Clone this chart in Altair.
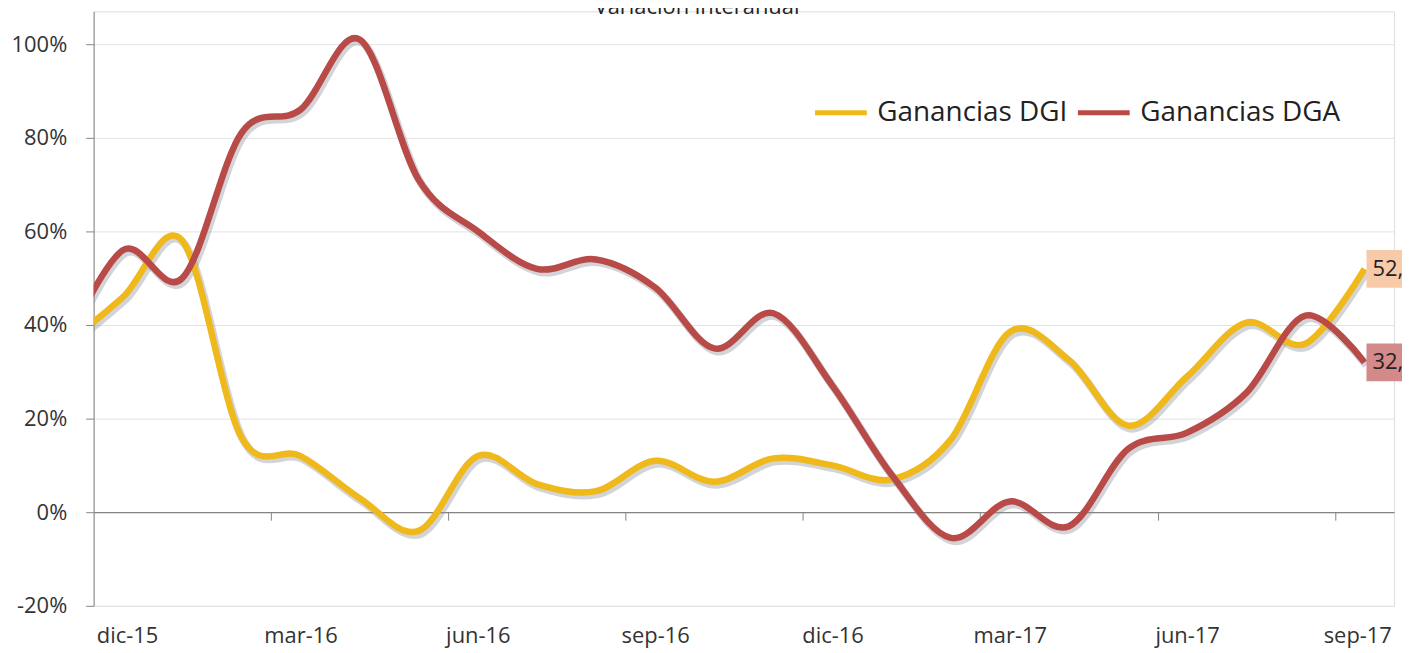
import altair as alt
import pandas as pd

# ---- data (percent, year-on-year) ----
months = ["nov-15", "dic-15", "ene-16", "feb-16", "mar-16", "abr-16", "may-16",
          "jun-16", "jul-16", "ago-16", "sep-16", "oct-16", "nov-16", "dic-16",
          "ene-17", "feb-17", "mar-17", "abr-17", "may-17", "jun-17", "jul-17",
          "ago-17", "sep-17"]
dgi = [35.5, 46, 58, 16, 12, 3, -4, 12, 6, 4.5, 11, 6.5, 11.5, 10, 7, 15.5,
       38.5, 32.5, 18.5, 29, 40.5, 36, 52]
dga = [35, 56, 50, 81, 86, 101, 71, 60, 52, 54, 48, 35, 42.5, 27, 8, -5.5,
       2.3, -3, 13.5, 17, 25.5, 42, 32]
series_names = ["Ganancias DGI", "Ganancias DGA"]
title_text = ["Variación interanual"]

# month index: dic-15 = 0
idx = list(range(-1, len(months) - 1))
rows = []
for name, vals in zip(series_names, [dgi, dga]):
    for k, v in zip(idx, vals):
        rows.append({"k": k, "v": v, "serie": name})
df = pd.DataFrame(rows)
df_end = pd.DataFrame({"k": [idx[-1], idx[-1]], "v": [dgi[-1], dga[-1]],
                       "serie": series_names})
df_title = pd.DataFrame({"t": title_text})

# ---- styling ----
FONT = "Open Sans"
YELLOW = "#EFB81B"
RED = "#B84A48"
W, H = 1306, 597
YMIN, YMAX = -20, 107
zero_off = -H * (0 - YMIN) / (YMAX - YMIN)

x_scale = alt.Scale(domain=[-0.5, len(months) - 1.5], nice=False, zero=False)
y_scale = alt.Scale(domain=[YMIN, YMAX], nice=False, zero=False)

label_values = list(range(0, len(months) - 1, 3))
label_expr = "[" + ",".join("'%s'" % m for m in months[1:]) + "][datum.value]"
x_axis_labels = alt.Axis(values=label_values, labelExpr=label_expr, ticks=False,
                         tickSize=0, domain=False, grid=False, labelFont=FONT,
                         labelFontSize=22, labelColor="#333", labelPadding=20,
                         labelFlush=35, labelFlushOffset=27,
                         orient="bottom", title=None, zindex=0)
tick_values = [v + 2.5 for v in range(0, len(months) - 3, 3)]
x_axis_zero = alt.Axis(values=tick_values, labels=False, ticks=True, tickSize=8,
                       tickColor="#858585", domain=True, domainColor="#858585",
                       domainWidth=1.2, grid=False, offset=zero_off,
                       orient="bottom", title=None, zindex=0)
y_axis = alt.Axis(values=[-20, 0, 20, 40, 60, 80, 100],
                  labelExpr="datum.value + '%'", grid=True, gridColor="#e3e3e3",
                  gridWidth=1, domainColor="#858585", tickColor="#858585",
                  tickSize=8, labelFont=FONT, labelFontSize=22, labelColor="#333",
                  labelPadding=19, title=None, zindex=0)

X1 = alt.X("k:Q", scale=x_scale, axis=x_axis_labels)
Y = alt.Y("v:Q", scale=y_scale, axis=y_axis)

color = alt.Color("serie:N",
                  scale=alt.Scale(domain=series_names, range=[YELLOW, RED]),
                  legend=alt.Legend(orient="none", legendX=722, legendY=73,
                                    direction="horizontal", title=None,
                                    symbolType="stroke", symbolSize=2704,
                                    symbolStrokeWidth=5, labelFont=FONT,
                                    labelFontSize=28, labelColor="#222",
                                    labelLimit=500, labelOffset=8,
                                    columnPadding=0, padding=0))

shadow = alt.Chart(df).mark_line(
    interpolate="cardinal", clip=True, strokeWidth=8, color="#8a8f99",
    opacity=0.38, xOffset=2, yOffset=3
).encode(
    x=alt.X("k:Q", scale=x_scale, axis=x_axis_zero),
    y=Y,
    detail="serie:N",
)

def line_for(name):
    return alt.Chart(df).transform_filter(
        alt.datum.serie == name
    ).mark_line(interpolate="cardinal", clip=True, strokeWidth=6.5).encode(
        x=X1, y=Y, color=color
    )

boxes = alt.Chart(df_end).mark_square(size=1444, xOffset=21, opacity=1).encode(
    x=X1, y=Y,
    color=alt.condition(alt.datum.serie == series_names[0],
                        alt.value("#F7CBAA"), alt.value("#D48A8A")),
)
texts = alt.Chart(df_end).transform_calculate(
    lab="replace(format(datum.v, '.1f'), '.', ',') + '%'"
).mark_text(align="left", baseline="middle", dx=8, font=FONT, fontSize=22,
            color="#222").encode(x=X1, y=Y, text="lab:N")

title = alt.Chart(df_title).mark_text(
    font=FONT, fontSize=22, color="#222", baseline="alphabetic", align="center"
).encode(x=alt.value(606), y=alt.value(3), text="t:N")

inner = alt.layer(line_for(series_names[0]), line_for(series_names[1]),
                  boxes, texts, title)

chart = alt.layer(shadow, inner).resolve_axis(x="independent").properties(
    width=W, height=H,
    autosize=alt.AutoSizeParams(type="none"),
    padding={"left": 86, "top": 2, "right": 8, "bottom": 42},
).configure_view(strokeWidth=0).configure(font=FONT)

chart.save("out.html", embed_options={"renderer": "svg", "actions": False})
